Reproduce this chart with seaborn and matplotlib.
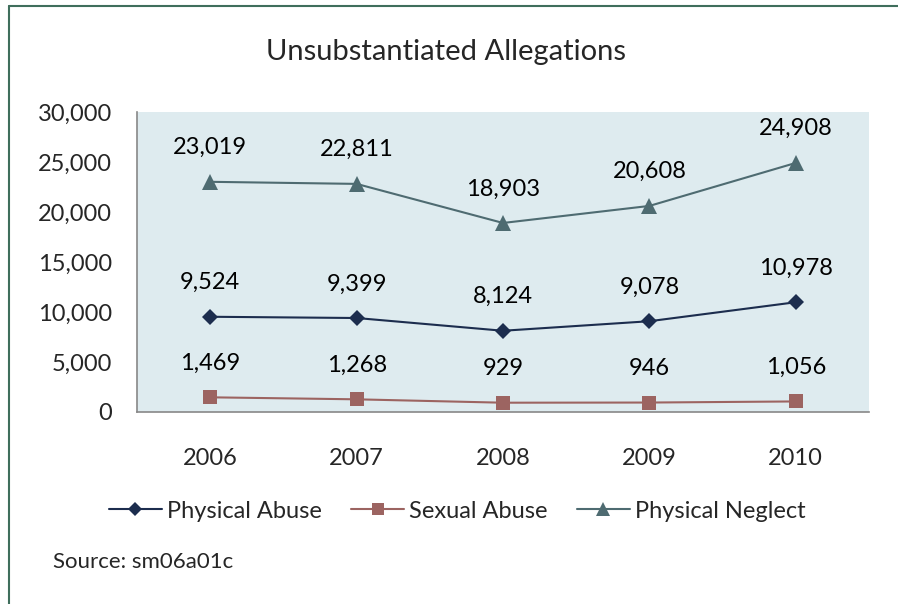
import matplotlib
matplotlib.use("Agg")
import matplotlib.pyplot as plt
from matplotlib.lines import Line2D
import seaborn as sns
import pandas as pd
import numpy as np

years = ["2006", "2007", "2008", "2009", "2010"]
physical_abuse = [9524, 9399, 8124, 9078, 10978]
sexual_abuse = [1469, 1268, 929, 946, 1056]
physical_neglect = [23019, 22811, 18903, 20608, 24908]
series_names = ["Physical Abuse", "Sexual Abuse", "Physical Neglect"]
yticks = [0, 5000, 10000, 15000, 20000, 25000, 30000]

sns.set_style("white")
plt.rcParams['font.family'] = ['Lato', 'DejaVu Sans']

colors = {"Physical Abuse": "#1C2D4E", "Sexual Abuse": "#9C6461", "Physical Neglect": "#4E6B71"}
markers = {"Physical Abuse": "D", "Sexual Abuse": "s", "Physical Neglect": "^"}
msizes = {"Physical Abuse": 8, "Sexual Abuse": 10, "Physical Neglect": 11}

rows = []
for name, vals in zip(series_names, [physical_abuse, sexual_abuse, physical_neglect]):
    for i, v in enumerate(vals):
        rows.append({"x": i, "year": years[i], "value": v, "series": name})
df = pd.DataFrame(rows)

W, H = 898, 604
FS = 17
fig = plt.figure(figsize=(W / 100, H / 100), dpi=100)
ax = fig.add_axes([137 / W, 1 - 412 / H, (869 - 137) / W, 300 / H])
ax.set_facecolor("#DEEBEF")

for name in series_names:
    sub = df[df.series == name]
    sns.lineplot(data=sub, x="x", y="value", ax=ax, color=colors[name], linewidth=1.5,
                 marker=markers[name], markersize=msizes[name], markeredgewidth=0,
                 legend=False, zorder=3)
    for _, r in sub.iterrows():
        ax.annotate(f"{r.value:,}", (r.x, r.value), xytext=(0, 17), textcoords="offset points",
                    ha="center", va="bottom", fontsize=FS, color="black")

ax.set_xlim(-0.5, 4.5)
ax.set_ylim(0, 30000)
ax.set_yticks(yticks)
ax.set_yticklabels([f"{t:,}" for t in yticks], fontsize=FS)
ax.set_xticks(np.arange(-0.5, 5, 1))
ax.set_xticklabels([])
ax.set_xticks(range(len(years)), minor=True)
ax.set_xticklabels(years, minor=True, fontsize=FS)
ax.tick_params(axis="x", which="major", direction="out", length=7, color="#888888", width=1.2)
ax.tick_params(axis="x", which="minor", length=0, pad=26)
ax.tick_params(axis="y", direction="out", length=7, color="#888888", width=1.2, pad=11)
ax.set_xlabel("")
ax.set_ylabel("")
for s in ["top", "right"]:
    ax.spines[s].set_visible(False)
for s in ["left", "bottom"]:
    ax.spines[s].set_color("#888888")
    ax.spines[s].set_linewidth(1.2)

fig.text(446 / W, 1 - 52 / H, "Unsubstantiated Allegations", ha="center", va="center", fontsize=21)

handles = [Line2D([0], [0], color=colors[n], marker=markers[n], markersize=msizes[n] - 1,
                  markeredgewidth=0, linewidth=1.5) for n in series_names]
fig.legend(handles, series_names, loc="center", bbox_to_anchor=(457 / W, 1 - 511 / H), ncol=3,
           frameon=False, fontsize=FS, handlelength=2.25, columnspacing=1.25, handletextpad=0.2)

fig.text(53 / W, 1 - 562 / H, "Source: sm06a01c", ha="left", va="center", fontsize=16)

border = "#3F6E5C"
fig.add_artist(Line2D([9 / W, 9 / W], [0, 1 - 6 / H], color=border, linewidth=1.5, transform=fig.transFigure))
fig.add_artist(Line2D([9 / W, 1], [1 - 6 / H, 1 - 6 / H], color=border, linewidth=1.5, transform=fig.transFigure))

fig.savefig("out.png", dpi=100)
